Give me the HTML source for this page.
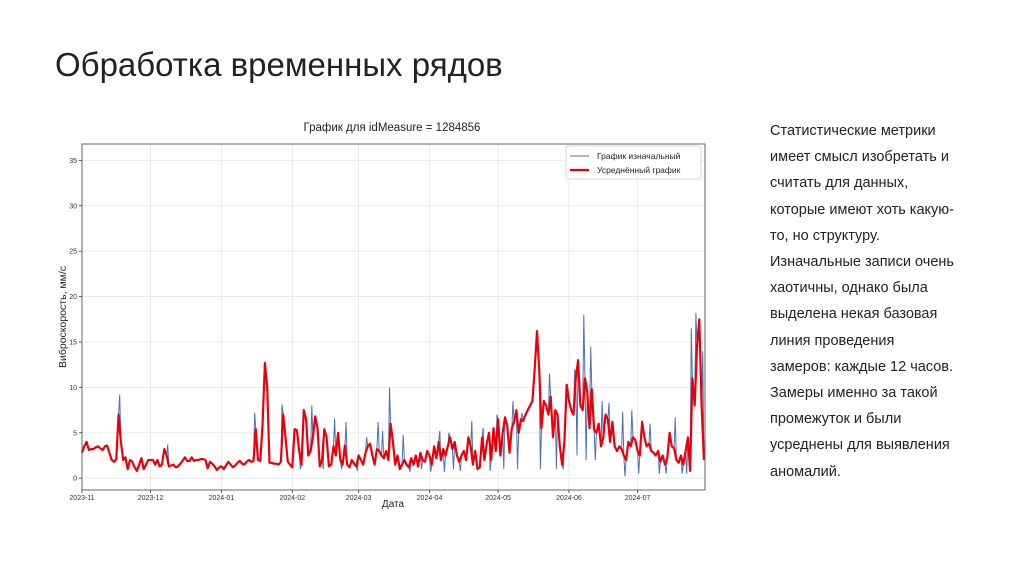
<!DOCTYPE html>
<html><head><meta charset="utf-8"><style>
body{margin:0;width:1024px;height:574px;background:#fff;overflow:hidden;position:relative;font-family:"Liberation Sans","Noto Sans CJK SC",sans-serif;}
#title{position:absolute;left:55px;top:46px;font-size:33px;color:#222;}
#desc{position:absolute;left:770px;top:118px;width:215px;font-size:14.5px;line-height:26.2px;color:#222;}
svg{position:absolute;left:0;top:0;}
</style></head><body>
<div id="title">Обработка временных рядов</div>
<div id="desc">Статистические метрики<br>имеет смысл изобретать и<br>считать для данных,<br>которые имеют хоть какую-<br>то, но структуру.<br>Изначальные записи очень<br>хаотичны, однако была<br>выделена некая базовая<br>линия проведения<br>замеров: каждые 12 часов.<br>Замеры именно за такой<br>промежуток и были<br>усреднены для выявления<br>аномалий.</div>
<svg id="chart" width="1024" height="574" font-family="Liberation Sans, DejaVu Sans, sans-serif"></svg>
<script>
const yTicks=[0,5,10,15,20,25,30,35];
const monthLabels=["2023-11","2023-12","2024-01","2024-02","2024-03","2024-04","2024-05","2024-06","2024-07"];
const monthDays=[0,30,61,92,121,152,182,213,243];
const avgNov=[2.8,3.5,4.0,3.1,3.2,3.2,3.4,3.5,3.3,3.1,3.5,3.6,2.8,2.0,1.8,2.1,7.0,4.0,2.0,2.3,1.0,2.0,1.8,1.2,0.8,1.5,2.2,1.0,1.5,2.0];
const avgDec=[2.0,2.0,1.5,2.0,1.3,1.5,3.2,2.5,1.3,1.4,1.5,1.2,1.3,1.6,1.9,2.3,1.9,1.9,2.3,1.9,2.0,2.0,2.1,2.1,2.0,1.1,1.8,1.6,1.3,0.9,1.2];
const avgJan=[1.3,1.0,1.4,1.8,1.5,1.2,1.4,1.7,1.9,1.6,1.5,1.8,2.0,1.8,1.9,5.4,2.0,1.9,6.0,12.7,10.0,1.7,1.7,1.6,1.6,1.5,1.8,7.0,4.5,1.8,1.5];
const avgFeb=[1.2,5.4,5.3,3.0,1.5,7.5,6.5,2.5,3.0,4.5,6.8,5.5,1.3,2.0,5.4,4.5,1.3,1.5,3.5,2.5,5.0,2.0,1.5,3.6,1.5,1.2,2.0,1.6,1.3];
const avgMar=[2.5,2.0,1.5,2.8,3.5,3.8,2.5,1.5,3.2,3.0,2.5,2.2,3.0,2.0,6.0,4.0,1.5,2.5,1.0,1.5,2.0,1.5,1.2,2.2,1.5,2.5,1.3,2.8,2.0,1.8,3.0];
const avgApr=[2.5,1.5,3.5,2.2,4.0,2.0,3.2,2.5,3.5,4.5,3.2,4.0,2.5,1.8,2.5,3.0,2.0,4.5,3.5,1.5,3.0,1.0,1.2,4.5,2.0,3.8,5.0,2.0,5.5,3.0];
const avgMay=[6.5,2.5,5.0,6.7,5.8,2.8,5.5,6.2,7.5,5.0,6.5,6.3,7.0,7.5,8.0,8.5,12.0,16.2,12.0,5.5,8.5,8.0,7.0,9.0,4.5,7.5,7.0,3.5,1.5,4.0,10.3];
const avgJun=[8.5,7.5,7.0,11.0,13.0,8.0,7.5,11.0,9.5,5.5,9.8,5.3,5.0,6.0,3.5,4.5,7.0,6.5,4.0,6.2,3.5,3.0,3.5,3.2,2.5,2.0,4.0,3.5,4.5,4.2];
const avgJul=[3.0,2.5,6.2,4.5,3.5,3.8,3.0,2.8,2.5,3.0,1.8,2.5,1.5,2.2,5.0,3.5,3.3,2.0,1.7,2.5,1.5,3.0,4.5,0.8,11.0,8.0,14.5,17.5,8.0,2.0];
const rawDays=[16.5,37.5,75.5,87.5,95.5,100.5,105.5,110.5,113.5,115.5,120.5,124.5,129.5,131.5,134.5,140.5,143.5,148.5,152.5,156.5,158.5,160.5,162.5,165.5,170.5,175.5,178.5,181.5,184.5,188.5,190.5,192.5,200.5,204.5,207.5,210.5,215.5,216.5,219.5,220.5,222.5,224.5,227.5,230.5,236.5,237.5,240.5,243.5,248.5,252.5,255.5,259.5,262.5,264.5,266.5,268.5,271.5];
const rawVals=[9.2,3.7,7.2,8.1,1.0,8.0,1.0,6.6,1.0,6.2,0.8,4.5,6.2,5.2,10.0,4.8,0.7,1.0,0.7,5.2,0.7,5.0,1.0,0.8,6.3,5.5,0.8,7.0,1.0,8.5,1.0,7.2,1.0,11.5,1.0,1.0,12.0,2.5,18.0,2.0,14.5,2.0,8.5,8.3,7.3,0.2,7.5,0.5,6.0,0.5,0.5,6.7,0.5,0.5,16.5,18.2,14.0];

const NS='http://www.w3.org/2000/svg';
const svg=document.getElementById('chart');
const L=82,R=705,T=144,B=490;
const xMax=272.5,yMin=-1.3,yMax=36.8;
const xs=d=>L+(d/xMax)*(R-L);
const ys=v=>B-(v-yMin)/(yMax-yMin)*(B-T);
function mk(tag,at,parent){const e=document.createElementNS(NS,tag);for(const k in at)e.setAttribute(k,at[k]);(parent||svg).appendChild(e);return e;}

const avg=[].concat(avgNov,avgDec,avgJan,avgFeb,avgMar,avgApr,avgMay,avgJun,avgJul);
const avgPts=avg.map((v,i)=>[i,v]).filter(p=>p[0]<=xMax);
const rawPts=avgPts.concat(rawDays.map((d,i)=>[d,rawVals[i]])).sort((a,b)=>a[0]-b[0]);

yTicks.forEach(t=>{
 const g=mk('line',{x1:L,x2:R,y1:ys(t),y2:ys(t),stroke:'#e6e6e6','stroke-width':0.8});
 
 
 const tk=mk('line',{x1:L-3,x2:L,y1:ys(t),y2:ys(t),stroke:'#333','stroke-width':0.8});
 
 
 const tx=mk('text',{x:L-5,y:ys(t)+2.5,'font-size':7,'text-anchor':'end',fill:'#333'});
 tx.textContent=t;
 
 
});
monthDays.forEach((d,i)=>{
 const g=mk('line',{x1:xs(d),x2:xs(d),y1:T,y2:B,stroke:'#e6e6e6','stroke-width':0.8});
 
 
 const tk=mk('line',{x1:xs(d),x2:xs(d),y1:B,y2:B+3,stroke:'#333','stroke-width':0.8});
 
 
 const tx=mk('text',{x:xs(d),y:B+10,'font-size':7,'text-anchor':'middle',fill:'#333'});
 tx.textContent=monthLabels[i];
 
 
});
const raw=mk('polyline',{points:rawPts.map(p=>xs(p[0]).toFixed(1)+','+ys(p[1]).toFixed(1)).join(' '),fill:'none',stroke:'#4c72b0','stroke-width':1});


const av=mk('polyline',{points:avgPts.map(p=>xs(p[0]).toFixed(1)+','+ys(p[1]).toFixed(1)).join(' '),fill:'none',stroke:'#e8000b','stroke-width':2.2,'stroke-linejoin':'round'});


const fr=mk('rect',{x:L,y:T,width:R-L,height:B-T,fill:'none',stroke:'#555','stroke-width':0.9});


const ct=mk('text',{x:392,y:131,'font-size':11.5,'text-anchor':'middle',fill:'#222'});
ct.textContent='График для idMeasure = 1284856';


const xl=mk('text',{x:393,y:507,'font-size':10,'text-anchor':'middle',fill:'#222'});
xl.textContent='Дата';


const yl=mk('text',{x:0,y:0,'font-size':10.5,'text-anchor':'middle',fill:'#222',transform:'translate(66,317) rotate(-90)'});
yl.textContent='Виброскорость, мм/с';


const lg=mk('g',{});


mk('rect',{x:566,y:146,width:135,height:33,fill:'#fff',stroke:'#ccc','stroke-width':0.8,rx:2},lg);
const l1=mk('line',{x1:570,x2:589,y1:156,y2:156,stroke:'#4c72b0','stroke-width':1},lg);


const t1=mk('text',{x:597,y:159,'font-size':8.5,fill:'#222'},lg);
t1.textContent='График изначальный';


const l2=mk('line',{x1:570,x2:589,y1:170,y2:170,stroke:'#e8000b','stroke-width':2.2},lg);


const t2=mk('text',{x:597,y:173,'font-size':8.5,fill:'#222'},lg);
t2.textContent='Усреднённый график';


</script>
</body></html>
